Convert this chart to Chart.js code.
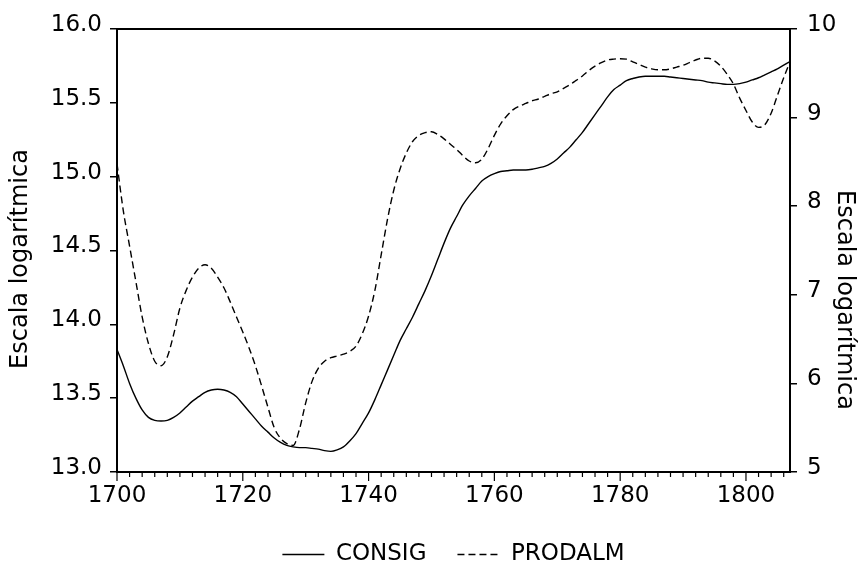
<!DOCTYPE html>
<html>
<head>
<meta charset="utf-8">
<script src="https://cdn.jsdelivr.net/npm/chart.js@4"></script>
<style>
html, body { margin: 0; padding: 0; background: #fff; }
</style>
</head>
<body>
<canvas id="myChart" width="865" height="565"></canvas>
<script>
// annual series, 1700-1807
const startYear = 1700;
const endYear = 1807;

const consig = [
    13.83, 13.72, 13.60, 13.50, 13.42, 13.37, 13.35, 13.345, 13.35, 13.37,
    13.40, 13.44, 13.48, 13.51, 13.54, 13.555, 13.56, 13.555, 13.54, 13.51,
    13.46, 13.41, 13.36, 13.31, 13.27, 13.23, 13.20, 13.18, 13.17, 13.165,
    13.165, 13.16, 13.155, 13.145, 13.14, 13.15, 13.17, 13.21, 13.26, 13.33,
    13.40, 13.49, 13.59, 13.69, 13.79, 13.89, 13.97, 14.05, 14.14, 14.23,
    14.33, 14.44, 14.55, 14.65, 14.73, 14.81, 14.87, 14.92, 14.97, 15.00,
    15.02, 15.035, 15.04, 15.045, 15.045, 15.045, 15.05, 15.06, 15.07, 15.09,
    15.12, 15.16, 15.20, 15.25, 15.30, 15.36, 15.42, 15.48, 15.54, 15.59,
    15.62, 15.65, 15.665, 15.675, 15.68, 15.68, 15.68, 15.68, 15.675, 15.67,
    15.665, 15.66, 15.655, 15.65, 15.64, 15.635, 15.63, 15.625, 15.625, 15.63,
    15.64, 15.655, 15.67, 15.69, 15.71, 15.73, 15.755, 15.78
];

const prodalm = [
    8.48, 7.95, 7.55, 7.15, 6.75, 6.45, 6.25, 6.20, 6.30, 6.55,
    6.85, 7.05, 7.20, 7.30, 7.34, 7.30, 7.20, 7.08, 6.92, 6.75,
    6.58, 6.40, 6.20, 5.97, 5.73, 5.50, 5.38, 5.32, 5.30, 5.48,
    5.78, 6.02, 6.17, 6.25, 6.29, 6.31, 6.33, 6.36, 6.42, 6.56,
    6.76, 7.05, 7.45, 7.85, 8.18, 8.42, 8.60, 8.73, 8.80, 8.83,
    8.84, 8.81, 8.76, 8.70, 8.64, 8.57, 8.51, 8.49, 8.53, 8.65,
    8.80, 8.93, 9.02, 9.09, 9.13, 9.16, 9.19, 9.21, 9.24, 9.27,
    9.29, 9.33, 9.37, 9.42, 9.47, 9.53, 9.58, 9.62, 9.65, 9.66,
    9.665, 9.66, 9.63, 9.60, 9.57, 9.55, 9.54, 9.54, 9.55, 9.57,
    9.59, 9.62, 9.65, 9.67, 9.67, 9.64, 9.58, 9.49, 9.38, 9.22,
    9.08, 8.95, 8.89, 8.92, 9.05, 9.25, 9.45, 9.63
];

const years = consig.map((v, i) => startYear + i);

const leftTicks = [13.0, 13.5, 14.0, 14.5, 15.0, 15.5, 16.0];
const rightTicks = [5, 6, 7, 8, 9, 10];
const axisTitle = 'Escala logarítmica';

const FONT = '"DejaVu Sans", sans-serif';

// frame, x tick marks and the two axis titles
const framePlugin = {
    id: 'frame',
    afterDraw(chart) {
        const ctx = chart.ctx;
        const a = chart.chartArea;
        const x = chart.scales.x;
        ctx.save();
        ctx.strokeStyle = '#000';
        ctx.lineWidth = 2;
        ctx.strokeRect(a.left, a.top, a.right - a.left, a.bottom - a.top);

        ctx.lineWidth = 1.2;
        x.ticks.forEach(t => {
            const px = x.getPixelForValue(t.value);
            const len = t.value % 20 === 0 ? 9 : 5;
            ctx.beginPath();
            ctx.moveTo(px, a.bottom);
            ctx.lineTo(px, a.bottom + len);
            ctx.stroke();
        });

        ctx.fillStyle = '#000';
        ctx.font = '24px ' + FONT;
        ctx.textAlign = 'center';
        ctx.textBaseline = 'alphabetic';

        ctx.save();
        ctx.translate(27, 259);
        ctx.rotate(-Math.PI / 2);
        ctx.fillText(axisTitle, 0, 0);
        ctx.restore();

        ctx.save();
        ctx.translate(838, 300);
        ctx.rotate(Math.PI / 2);
        ctx.fillText(axisTitle, 0, 0);
        ctx.restore();

        ctx.restore();
    }
};

const data = {
    labels: years,
    datasets: [{
        label: 'CONSIG',
        data: consig,
        yAxisID: 'y',
        borderColor: '#000',
        backgroundColor: 'rgba(0,0,0,0)',
        borderWidth: 1.4,
        pointRadius: 0,
        cubicInterpolationMode: 'monotone'
    }, {
        label: 'PRODALM',
        data: prodalm,
        yAxisID: 'y1',
        borderColor: '#000',
        backgroundColor: 'rgba(0,0,0,0)',
        borderWidth: 1.4,
        borderDash: [7, 4],
        pointRadius: 0,
        cubicInterpolationMode: 'monotone'
    }]
};

const tickFont = { family: FONT, size: 23 };

const config = {
    type: 'line',
    data: data,
    options: {
        responsive: false,
        animation: false,
        layout: {
            padding: { top: 29, left: 0, right: 0, bottom: -11 }
        },
        plugins: {
            legend: {
                display: true,
                position: 'bottom',
                fullSize: false,
                labels: {
                    boxWidth: 42,
                    boxHeight: 0,
                    padding: 31,
                    color: '#000',
                    font: { family: FONT, size: 23 }
                }
            },
            tooltip: { enabled: false }
        },
        scales: {
            x: {
                type: 'linear',
                min: startYear,
                max: endYear,
                grid: { display: false, drawTicks: false },
                border: { display: false },
                ticks: {
                    stepSize: 2,
                    autoSkip: false,
                    maxRotation: 0,
                    includeBounds: false,
                    padding: 10,
                    color: '#000',
                    font: tickFont,
                    callback: v => (v % 20 === 0 ? String(v) : '')
                },
                afterFit(s) {
                    s.height = 40;
                    s.paddingLeft = 0;
                    s.paddingRight = 0;
                }
            },
            y: {
                position: 'left',
                min: 13,
                max: 16,
                grid: { drawOnChartArea: false, drawTicks: true, tickLength: 7, color: '#000', lineWidth: 1.5 },
                border: { display: false },
                afterBuildTicks(s) {
                    s.ticks = leftTicks.map(v => ({ value: v }));
                },
                ticks: {
                    padding: 8,
                    labelOffset: -4,
                    color: '#000',
                    font: tickFont,
                    callback: v => Number(v).toFixed(1)
                },
                afterFit(s) {
                    s.width = 117;
                    s.paddingTop = 0;
                    s.paddingBottom = 0;
                }
            },
            y1: {
                position: 'right',
                min: 5,
                max: 10,
                grid: { drawOnChartArea: false, drawTicks: true, tickLength: 7, color: '#000', lineWidth: 1.5 },
                border: { display: false },
                afterBuildTicks(s) {
                    s.ticks = rightTicks.map(v => ({ value: v }));
                },
                ticks: {
                    padding: 10,
                    labelOffset: -4,
                    color: '#000',
                    font: tickFont
                },
                afterFit(s) {
                    s.width = 75;
                    s.paddingTop = 0;
                    s.paddingBottom = 0;
                }
            }
        }
    },
    plugins: [framePlugin]
};

const myChart = new Chart(
    document.getElementById('myChart'),
    config
);
</script>
</body>
</html>
